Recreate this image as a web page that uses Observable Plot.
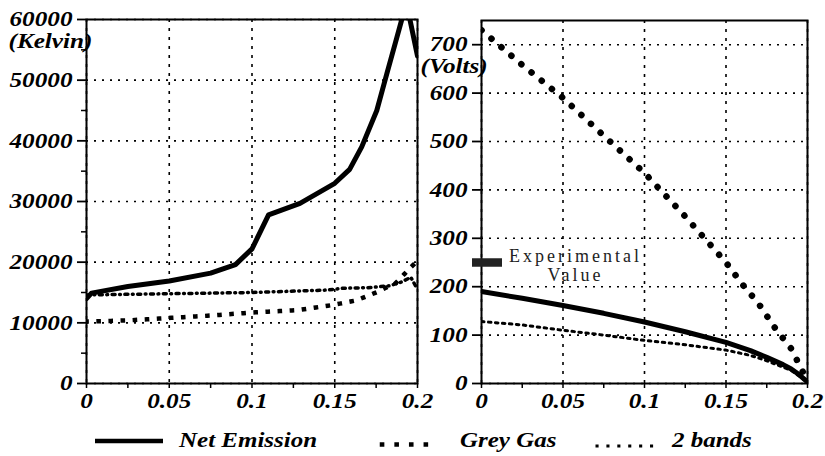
<!DOCTYPE html>
<html><head><meta charset="utf-8">
<script src="https://cdn.jsdelivr.net/npm/d3@7"></script>
<script src="https://cdn.jsdelivr.net/npm/@observablehq/plot@0.6"></script>
<style>
html,body{margin:0;padding:0;background:#fff;}
#wrap{position:relative;width:825px;height:456px;overflow:hidden;background:#fff;}
#left,#right{position:absolute;top:0;}
#left{left:0;} #right{left:405px;}
#legend{position:absolute;left:0;top:420px;}
</style></head><body>
<div id="wrap"><div id="left"></div><div id="right"></div><div id="legend"></div></div>
<script>
// ---- tick values ----
const xTicks = [0, 0.05, 0.1, 0.15, 0.2];
const xMinor = [0.025, 0.075, 0.125, 0.175];
const kelvinTicks = [0, 10000, 20000, 30000, 40000, 50000, 60000];
const kelvinMinor = [5000, 15000, 25000, 35000, 45000, 55000];
const voltTicks = [0, 100, 200, 300, 400, 500, 600, 700];

// ---- left panel (Kelvin) ----
const netKx = [0, 0.003, 0.025, 0.05, 0.075, 0.09, 0.1, 0.11, 0.129, 0.15, 0.159, 0.1663, 0.1754, 0.1814, 0.1875, 0.1905, 0.1935, 0.2];
const netKy = [14000, 14900, 16000, 16900, 18200, 19600, 22200, 27800, 29700, 33000, 35300, 39000, 45000, 51000, 57000, 60000, 62500, 54000];
const greyKx = [0, 0.025, 0.05, 0.075, 0.1, 0.128, 0.149, 0.163, 0.175, 0.187, 0.1965, 0.2];
const greyKy = [10200, 10400, 10800, 11200, 11700, 12100, 12950, 13700, 15000, 16600, 19300, 20200];
const bandKx = [0, 0.05, 0.1, 0.145, 0.155, 0.17, 0.183, 0.19, 0.196, 0.2];
const bandKy = [14600, 14800, 15000, 15400, 15700, 15800, 16100, 16700, 17500, 15500];

// ---- right panel (Volts) ----
const netVx = [0, 0.025, 0.05, 0.075, 0.1, 0.125, 0.15, 0.165, 0.175, 0.185, 0.19, 0.195, 0.2];
const netVy = [190, 176, 161, 145, 127, 107, 85, 68, 54, 39, 30, 18, 3];
const greyVx = [0, 0.025, 0.05, 0.075, 0.1, 0.125, 0.15, 0.16, 0.17, 0.18, 0.19, 0.2];
const greyVy = [730, 658, 590, 512, 435, 345, 250, 205, 165, 115, 72, 5];
const bandVx = [0, 0.025, 0.05, 0.075, 0.1, 0.125, 0.15, 0.165, 0.175, 0.19, 0.2];
const bandVy = [128, 121, 110, 100, 89, 80, 69, 58, 47, 27, 3];
const experimentalVolts = [250];

// ---- legend ----
const seriesNames = ["Net Emission", "Grey Gas", "2 bands"];

const zip = (xs, ys) => xs.map((x, i) => ({x, y: ys[i]}));
const tickFont = {fontFamily: "Liberation Serif", fontStyle: "italic", fontWeight: "bold", fontSize: 21};
const fmtX = d => String(d);
const STRETCH = 1.2;

function stretchTexts(svg, s) {
  d3.select(svg).selectAll("text").filter(function() { return !this.textContent.includes("Experimental"); })
    .each(function() {
      const t = d3.select(this);
      const xa = t.attr("x");
      const x = xa != null && isFinite(+xa) ? +xa : 0;
      if (xa != null && isFinite(+xa)) t.attr("x", null);
      const tr = t.attr("transform") || "";
      t.attr("transform", `${tr} translate(${x},0) scale(${s},1)`);
    });
}

function panel({yDomain, yTicks, yMinor, unit, unitDx, unitDy, net, grey, band, netStyle, greyStyle, bandStyle, extra, width, marginLeft, marginRight, marginTop}) {
  return Plot.plot({
    width, height: 420, marginLeft, marginRight, marginTop, marginBottom: 37,
    style: {background: "transparent", overflow: "visible", fontFamily: "Liberation Serif"},
    x: {domain: [0, 0.2]},
    y: {domain: yDomain},
    marks: [
      Plot.gridY(yTicks, {stroke: "black", strokeOpacity: 1, strokeWidth: 1.6, strokeDasharray: "2,6"}),
      Plot.gridX(xTicks, {stroke: "black", strokeOpacity: 1, strokeWidth: 1.6, strokeDasharray: "3,6"}),
      Plot.line(grey, {x: "x", y: "y", stroke: "black", clip: true, ...greyStyle}),
      Plot.line(band, {x: "x", y: "y", stroke: "black", clip: true, ...bandStyle}),
      Plot.line(net, {x: "x", y: "y", stroke: "black", clip: true, strokeLinejoin: "round", ...netStyle}),
      Plot.frame({stroke: "black", strokeWidth: 2}),
      Plot.axisY(yTicks, {tickSize: 9, tickPadding: 5, strokeWidth: 1.8, tickFormat: d => String(d), label: null, ...tickFont}),
      ...(yMinor ? [Plot.axisY(yMinor, {tickSize: 5, strokeWidth: 1.5, text: null, label: null})] : []),
      Plot.axisX(xTicks, {tickSize: 5, tickPadding: 5, strokeWidth: 1.5, tickFormat: fmtX, label: null, ...tickFont}),
      Plot.axisX(xMinor, {tickSize: 5, strokeWidth: 1.5, text: null, label: null}),
      Plot.text([unit], {text: d => d, frameAnchor: "top-left", dx: unitDx, dy: unitDy, textAnchor: "start", lineAnchor: "middle", ...tickFont}),
      ...(extra || [])
    ]
  });
}

const left = panel({
  yDomain: [0, 60000], yTicks: kelvinTicks, yMinor: kelvinMinor,
  unit: "(Kelvin)", unitDx: -78, unitDy: 22,
  net: zip(netKx, netKy), grey: zip(greyKx, greyKy), band: zip(bandKx, bandKy),
  netStyle: {strokeWidth: 5},
  greyStyle: {strokeWidth: 4.5, strokeDasharray: "0.1,12", strokeLinecap: "square"},
  bandStyle: {strokeWidth: 3.5, strokeDasharray: "3,4.5,0.8,4.5"},
  width: 430, marginLeft: 86, marginRight: 13, marginTop: 19
});
document.getElementById("left").appendChild(left);
stretchTexts(left, STRETCH);

const right = panel({
  yDomain: [0, 750], yTicks: voltTicks, yMinor: null,
  unit: "(Volts)", unitDx: -61, unitDy: 46,
  net: zip(netVx, netVy), grey: zip(greyVx, greyVy), band: zip(bandVx, bandVy),
  netStyle: {strokeWidth: 5},
  greyStyle: {strokeWidth: 6.5, strokeDasharray: "0.1,13", strokeLinecap: "round"},
  bandStyle: {strokeWidth: 3, strokeDasharray: "2.5,4.5"},
  width: 420, marginLeft: 76, marginRight: 18, marginTop: 20,
  extra: [
    Plot.ruleY(experimentalVolts, {x1: 0, x2: 0, insetLeft: -9, insetRight: -21, strokeWidth: 8.5, stroke: "#222"}),
    Plot.text(experimentalVolts, {x: 0, y: d => d, text: () => "Experimental\nValue", dx: 94, dy: -14, lineAnchor: "top", lineHeight: 1.05, textAnchor: "middle", fontFamily: "Liberation Serif", fontSize: 18, fill: "#222"})
  ]
});
document.getElementById("right").appendChild(right);
stretchTexts(right, STRETCH);
d3.select(right).selectAll("text").filter(function() { return this.textContent.includes("Experimental"); })
  .style("letter-spacing", "3px");

// legend
const lg = d3.select("#legend").append("svg").attr("width", 825).attr("height", 36);
const legendItems = [
  {name: seriesNames[0], x1: 95, x2: 163, y: 21, w: 4.5, dash: null, cap: "butt", tx: 179},
  {name: seriesNames[1], x1: 382, x2: 440, y: 24.5, w: 4.5, dash: "0.1,14.5", cap: "square", tx: 460},
  {name: seriesNames[2], x1: 597, x2: 662, y: 26, w: 3, dash: "0.1,10.8", cap: "square", tx: 672}
];
legendItems.forEach(d => {
  lg.append("line").attr("x1", d.x1).attr("x2", d.x2).attr("y1", d.y).attr("y2", d.y)
    .attr("stroke", "black").attr("stroke-width", d.w).attr("stroke-dasharray", d.dash).attr("stroke-linecap", d.cap);
  lg.append("text").attr("transform", `translate(${d.tx},27) scale(1.25,1)`).text(d.name)
    .attr("font-family", "Liberation Serif").attr("font-style", "italic").attr("font-weight", "bold").attr("font-size", 20);
});
</script>
</body></html>
